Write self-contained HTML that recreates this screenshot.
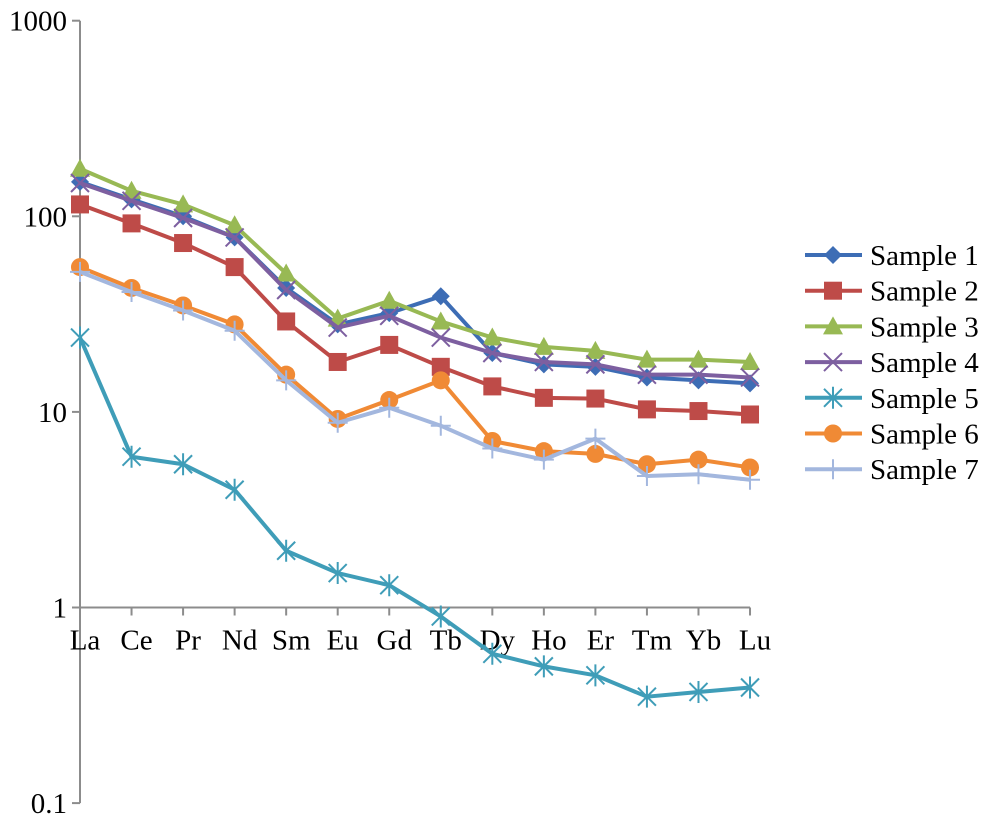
<!DOCTYPE html>
<html><head><meta charset="utf-8"><style>
body{margin:0;background:#fff}
text{font-family:"Liberation Serif","DejaVu Serif",serif}
</style></head><body>
<svg id="c" width="996" height="821"></svg>
<script>
const categories=["La","Ce","Pr","Nd","Sm","Eu","Gd","Tb","Dy","Ho","Er","Tm","Yb","Lu"];
const yTicks=[0.1,1,10,100,1000];
const yTickLabels=["0.1","1","10","100","1000"];
const s1=[150,122,100,78,43,28,32,39,20,17.5,17,15,14.5,14];
const s2=[115,92,73,55,29,18,22,17,13.5,11.8,11.7,10.3,10.1,9.7];
const s3=[175,135,115,90,51,30,37,29,24,21.5,20.5,18.5,18.5,18];
const s4=[148,120,98,78,42,27,31,24,20,18,17.5,15.5,15.5,15];
const s5=[24,5.9,5.4,4.0,1.95,1.5,1.3,0.9,0.58,0.5,0.45,0.35,0.37,0.39];
const s6=[55,43,35,28,15.5,9.2,11.5,14.5,7.1,6.3,6.1,5.4,5.7,5.2];
const s7=[52,41,33,26,14.5,8.8,10.5,8.5,6.5,5.7,7.3,4.7,4.8,4.5];
const seriesNames=["Sample 1","Sample 2","Sample 3","Sample 4","Sample 5","Sample 6","Sample 7"];
const seriesData=[s1,s2,s3,s4,s5,s6,s7];
const colors=["#3d6db5","#be4b48","#98b954","#7d5fa0","#3f9db8","#f08a35","#a3b7de"];
const markers=["diamond","square","triangle","x","star","circle","plus"];

const NS="http://www.w3.org/2000/svg";
const svg=document.getElementById("c");
const X0=80,DX=51.54,Y1=607.5,DEC=195.6;
const xs=i=>X0+i*DX;
const ys=v=>Y1-DEC*Math.log10(v);
function el(t,a,p){const e=document.createElementNS(NS,t);for(const k in a)e.setAttribute(k,a[k]);(p||svg).appendChild(e);return e;}

const ya=el("line",{x1:X0,y1:ys(1000),x2:X0,y2:ys(0.1),stroke:"#8c8c8c","stroke-width":2});


yTicks.forEach((v,i)=>{
  const t=el("line",{x1:X0-8,y1:ys(v),x2:X0,y2:ys(v),stroke:"#8c8c8c","stroke-width":2});
  
  
  const l=el("text",{x:X0-13,y:ys(v)+10,"text-anchor":"end","font-size":29});
  l.textContent=yTickLabels[i];
  
  
});
const xa=el("line",{x1:X0,y1:Y1,x2:xs(categories.length-1),y2:Y1,stroke:"#8c8c8c","stroke-width":2});


categories.forEach((c,i)=>{
  const t=el("line",{x1:xs(i),y1:Y1,x2:xs(i),y2:Y1+8,stroke:"#8c8c8c","stroke-width":2});
  
  
  const l=el("text",{x:xs(i)+5,y:Y1+42,"text-anchor":"middle","font-size":29});
  l.textContent=c;
  
  
});

function marker(type,x,y,col,g){
  const s=9;
  if(type==="diamond")return el("polygon",{points:`${x},${y-s} ${x+s},${y} ${x},${y+s} ${x-s},${y}`,fill:col},g);
  if(type==="square")return el("rect",{x:x-9,y:y-9,width:18,height:18,fill:col},g);
  if(type==="triangle")return el("polygon",{points:`${x},${y-10} ${x+10},${y+8} ${x-10},${y+8}`,fill:col},g);
  if(type==="circle")return el("circle",{cx:x,cy:y,r:9,fill:col},g);
  if(type==="x")return el("path",{d:`M${x-9},${y-9}L${x+9},${y+9}M${x-9},${y+9}L${x+9},${y-9}`,stroke:col,"stroke-width":2},g);
  if(type==="plus")return el("path",{d:`M${x-10},${y}L${x+10},${y}M${x},${y-10}L${x},${y+10}`,stroke:col,"stroke-width":2},g);
  return el("path",{d:`M${x-9},${y-9}L${x+9},${y+9}M${x-9},${y+9}L${x+9},${y-9}M${x},${y-11}L${x},${y+11}`,stroke:col,"stroke-width":2},g);
}

seriesData.forEach((d,si)=>{
  const g=el("g",{});
  
  
  const p=el("polyline",{points:d.map((v,i)=>xs(i)+","+ys(v)).join(" "),fill:"none",stroke:colors[si],"stroke-width":4,"stroke-linejoin":"round"},g);
  
  
  d.forEach((v,i)=>{
    const m=marker(markers[si],xs(i),ys(v),colors[si],g);
    
    
  });
});

seriesNames.forEach((n,si)=>{
  const y=255+si*35.7;
  const g=el("g",{});
  
  
  el("line",{x1:805,y1:y,x2:862,y2:y,stroke:colors[si],"stroke-width":4},g);
  marker(markers[si],833,y,colors[si],g);
  const t=el("text",{x:870,y:y+10,"font-size":29},g);
  t.textContent=n;
});
</script>
</body></html>
